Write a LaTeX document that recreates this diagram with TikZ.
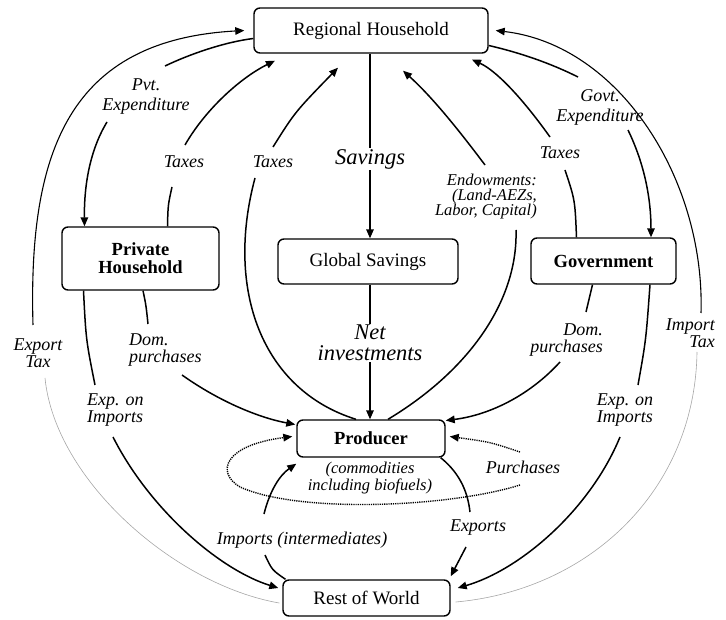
\documentclass[tikz,border=0pt]{standalone}
\usepackage{fontspec}
\setmainfont{Liberation Serif}
\usetikzlibrary{arrows.meta}
\tikzset{
 box/.style={draw, line width=1.4pt, rounded corners=6pt, inner sep=0pt, font=\fontsize{19}{18}\selectfont, align=center},
 boldbox/.style={box, font=\fontsize{18.5}{18}\selectfont\bfseries},
 seg/.style={line width=1.5pt},
 flow/.style={seg, -{Triangle[length=9pt,width=7.5pt]}},
 greyseg/.style={line width=0.6pt, gray!70},
 dots/.style={line width=1.4pt, dash pattern=on 1.2pt off 1pt},
 lbl/.style={font=\fontsize{18}{17}\selectfont\itshape, align=center, inner sep=1pt},
 biglbl/.style={lbl, font=\fontsize{22.5}{21}\selectfont\itshape},
 smalllbl/.style={lbl, font=\fontsize{16.5}{15}\selectfont\itshape},
}
\begin{document}
\begin{tikzpicture}[x=1pt,y=-1pt]
\useasboundingbox (0,0) rectangle (726,620);
% nodes
\node[box, minimum width=234pt, minimum height=45pt] (rh) at (371,30.5) {Regional Household};
\node[boldbox, minimum width=157pt, minimum height=63pt] (ph) at (140.5,258.5) {Private\\Household};
\node[box, minimum width=180pt, minimum height=45pt] (gs) at (368,261.5) {Global Savings};
\node[boldbox, minimum width=145pt, minimum height=46pt] (gov) at (603.5,261) {Government};
\node[boldbox, minimum width=148pt, minimum height=37pt] (prod) at (371,438.5) {Producer};
\node[box, minimum width=167pt, minimum height=36pt] (row) at (366.5,598) {Rest of World};
% labels
\node[biglbl] (lSav) at (370,159) {Savings};
\node[biglbl] (lNet) at (370,343) {Net\\investments};
\node[lbl, font=\fontsize{18}{20}\selectfont\itshape] (lPvt) at (146,97) {Pvt.\\Expenditure};
\node[lbl] (lTaxPH) at (184,162) {Taxes};
\node[lbl] (lTaxPr) at (273,162) {Taxes};
\node[smalllbl, align=right, anchor=east] (lEnd) at (538,197) {Endowments:\\(Land-AEZs,\\Labor, Capital)};
\node[lbl] (lTaxGov) at (560,153) {Taxes};
\node[lbl, font=\fontsize{18}{20}\selectfont\itshape] (lGovt) at (600,107) {Govt.\\Expenditure};
\node[lbl] (lExpT) at (38,353) {Export\\Tax};
\node[lbl, align=right, anchor=east] (lImpT) at (716,333) {Import\\Tax};
\node[lbl, align=left, anchor=west] (lDomL) at (128,350) {Dom.\\purchases};
\node[lbl, align=left, anchor=west] (lExpL) at (86,410) {Exp. on\\Imports};
\node[lbl, align=right, anchor=east] (lDomR) at (604,340) {Dom.\\purchases};
\node[lbl, align=left] (lExpR) at (625,410) {Exp. on\\Imports};
\node[lbl] (lPurch) at (523,467) {Purchases};
\node[lbl] (lExports) at (478,528) {Exports};
\node[lbl] (lImpInt) at (302,540) {Imports (intermediates)};
\node[smalllbl] (lComm) at (370,478) {(commodities\\including biofuels)};
% Savings / net investments
\draw[seg] (rh.south -| lSav) -- (lSav);
\draw[flow] (lSav) -- (gs.north -| lSav);
\draw[seg] (gs.south -| lNet) -- (lNet);
\draw[flow] (lNet) -- (prod.north -| lNet);
% Pvt expenditure
\coordinate (pvA) at (165,66);
\coordinate (pvB) at (107,122);
\draw[seg] ([yshift=-8pt]rh.west) .. controls (225,42) and (190,54) .. (pvA);
\draw[flow] (pvB) .. controls (90,150) and (84,185) .. ([xshift=-56pt]ph.north);
% Taxes from private household
\coordinate (tpA) at (172,187);
\coordinate (tpB) at (185,145);
\draw[seg] ([xshift=27pt]ph.north) .. controls (168,205) .. (tpA);
\draw[flow] (tpB) .. controls (205,110) and (240,78) .. ([xshift=-96pt,yshift=-7pt]rh.south);
% Taxes from producer
\coordinate (trA) at (255,178);
\coordinate (trB) at (273,147);
\draw[seg] ([xshift=-15pt]prod.north) .. controls (262,390) and (225,290) .. (trA);
\draw[flow] (trB) .. controls (295,112) .. ([xshift=-33pt,yshift=-14pt]rh.south);
% Endowments
\coordinate (enA) at (516,230);
\coordinate (enB) at (485,165);
\draw[seg] ([xshift=17pt]prod.north) .. controls (470,370) and (518,300) .. (enA);
\draw[flow] (enB) .. controls (455,125) and (430,95) .. ([xshift=32pt,yshift=-17pt]rh.south);
% Taxes from government
\coordinate (tgA) at (565,170);
\coordinate (tgB) at (550,137);
\draw[seg] ([xshift=-27pt]gov.north) .. controls (575,200) .. (tgA);
\draw[flow] (tgB) .. controls (520,95) and (495,70) .. ([xshift=101pt,yshift=-6pt]rh.south);
% Govt expenditure
\coordinate (geA) at (578,77);
\coordinate (geB) at (628,130);
\draw[seg] ([yshift=-15pt]rh.east) .. controls (530,55) and (560,68) .. (geA);
\draw[flow] (geB) .. controls (645,165) and (651,200) .. ([xshift=47.5pt]gov.north);
% Import tax
\coordinate (itA) at (701,313);
\coordinate (itB) at (697,352);
\draw[flow, line width=1.1pt] (itA) .. controls (705,180) and (620,45) .. ([xshift=7pt]rh.east);
\draw[greyseg] (itB) .. controls (695,490) and (590,590) .. ([xshift=5pt,yshift=-4pt]row.east);
% Export tax
\coordinate (etA) at (33,325);
\coordinate (etB) at (45,378);
\draw[flow, line width=1.1pt] (etA) .. controls (28,150) and (70,40) .. ([xshift=-9pt]rh.west);
\draw[greyseg] (etB) .. controls (55,480) and (175,585) .. ([xshift=-3pt,yshift=-5pt]row.west);
% Dom. purchases (private)
\coordinate (dlA) at (148,324);
\coordinate (dlB) at (182,375);
\draw[seg] ([xshift=2.5pt]ph.south) .. controls (146,305) .. (dlA);
\draw[flow] (dlB) .. controls (220,402) and (260,418) .. ([xshift=-1pt,yshift=14pt]prod.west);
% Exp. on imports (private)
\coordinate (elA) at (95,385);
\coordinate (elB) at (113,437);
\draw[seg] ([xshift=-57pt]ph.south) .. controls (86,340) .. (elA);
\draw[flow] (elB) .. controls (150,510) and (220,570) .. ([xshift=-4pt,yshift=10pt]row.west);
% Dom. purchases (government)
\coordinate (drA) at (586,312);
\coordinate (drB) at (560,362);
\draw[seg] ([xshift=-11pt]gov.south) .. controls (590,298) .. (drA);
\draw[flow] (drB) .. controls (530,395) and (490,415) .. ([yshift=18pt]prod.east);
% Exp. on imports (government)
\coordinate (erA) at (638,385);
\coordinate (erB) at (620,437);
\draw[seg] ([xshift=46.5pt]gov.south) .. controls (646,340) .. (erA);
\draw[flow] (erB) .. controls (590,510) and (520,570) .. ([xshift=7pt,yshift=10pt]row.east);
% Imports (intermediates)
\coordinate (imA) at (265,555);
\coordinate (imB) at (264,514);
\draw[seg] ([xshift=-81pt]row.north) .. controls (272,570) .. (imA);
\draw[flow] (imB) .. controls (270,490) and (280,475) .. ([yshift=-6pt]prod.south west);
% Exports
\coordinate (exA) at (470,512);
\coordinate (exB) at (466,547);
\draw[seg] ([xshift=-5pt]prod.south east) .. controls (462,475) and (468,495) .. (exA);
\draw[flow] (exB) -- ([yshift=3pt]row.north east);
% Purchases (dotted loop)
\coordinate (puA) at (520,452);
\coordinate (puB) at (520,485);
\draw[flow, dots] (puA) .. controls (490,442) .. ([xshift=4pt,yshift=2pt]prod.east);
\draw[flow, dots] (puB) .. controls (450,507) and (300,514) .. (240,487) .. controls (215,472) and (225,445) .. ([xshift=-4pt,yshift=2pt]prod.west);
\end{tikzpicture}
\end{document}
